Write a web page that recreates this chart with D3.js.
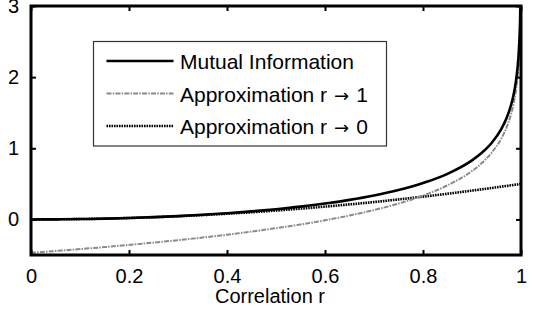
<!DOCTYPE html>
<html>
<head>
<meta charset="utf-8">
<script src="https://cdn.jsdelivr.net/npm/d3@7"></script>
<style>
  body { margin: 0; background: #fff; }
  text { font-family: "Liberation Sans", Arial, Helvetica, sans-serif; fill: #000; }
</style>
</head>
<body>
<div id="chart"></div>
<script>
// values
const corr = [0, 0.05, 0.1, 0.15, 0.2, 0.25, 0.3, 0.35, 0.4, 0.45, 0.5, 0.55, 0.6, 0.65, 0.7, 0.75,
  0.8, 0.85, 0.9, 0.92, 0.94, 0.96, 0.97, 0.98, 0.985, 0.99, 0.993, 0.995, 0.997, 0.998, 0.9988, 0.9991];
const mutualInfo = [0, 0.001, 0.005, 0.011, 0.020, 0.032, 0.047, 0.065, 0.087, 0.113, 0.144, 0.180, 0.223,
  0.275, 0.337, 0.413, 0.511, 0.641, 0.830, 0.937, 1.075, 1.273, 1.414, 1.615, 1.757, 1.959, 2.136, 2.304,
  2.559, 2.761, 3.02, 3.16];
const approxHigh = [-0.470, -0.444, -0.417, -0.389, -0.358, -0.326, -0.292, -0.255, -0.215, -0.171, -0.123,
  -0.071, -0.012, 0.055, 0.132, 0.223, 0.335, 0.479, 0.681, 0.793, 0.937, 1.139, 1.283, 1.486, 1.630, 1.833,
  2.011, 2.179, 2.435, 2.637, 2.893, 3.0];
const approxLow = [0, 0.001, 0.005, 0.011, 0.020, 0.031, 0.045, 0.061, 0.080, 0.101, 0.125, 0.151, 0.180,
  0.211, 0.245, 0.281, 0.320, 0.361, 0.405, 0.423, 0.442, 0.461, 0.470, 0.480, 0.485, 0.490, 0.492, 0.495,
  0.497, 0.498, 0.499, 0.499];
const xTicks = [0, 0.2, 0.4, 0.6, 0.8, 1];
const yTicks = [0, 1, 2, 3];
const legendNames = ["Mutual Information", "Approximation r", "Approximation r"];
const legendLimits = ["", "1", "0"];

const width = 536, height = 311;
const margin = {top: 6, right: 15, bottom: 56, left: 31};

const svg = d3.select("#chart").append("svg")
    .attr("width", width)
    .attr("height", height);

const x = d3.scaleLinear().domain([0, 1]).range([margin.left, width - margin.right]);
const y = d3.scaleLinear().domain([-0.5, 3]).range([height - margin.bottom, margin.top]);

svg.append("clipPath").attr("id", "plotclip")
  .append("rect")
    .attr("x", x(0)).attr("y", y(3))
    .attr("width", x(1) - x(0)).attr("height", y(-0.5) - y(3));

const series = [
  {values: mutualInfo, stroke: "#000", width: 2.6, dash: null},
  {values: approxHigh, stroke: "#8a8a8a", width: 2, dash: "5,1.2,1.5,1.2"},
  {values: approxLow, stroke: "#000", width: 2.6, dash: "1.6,0.9"}
];

const line = d3.line().curve(d3.curveMonotoneX);

const plot = svg.append("g").attr("clip-path", "url(#plotclip)");
// draw in reverse so the solid line ends up on top
series.slice().reverse().forEach(s => {
  plot.append("path")
    .datum(corr.map((r, i) => [x(r), y(s.values[i])]))
    .attr("d", line)
    .attr("fill", "none")
    .attr("stroke", s.stroke)
    .attr("stroke-width", s.width)
    .attr("stroke-dasharray", s.dash);
});

// axes: ticks inside the box on all four sides
svg.append("g")
    .attr("transform", `translate(0,${y(-0.5)})`)
    .call(d3.axisBottom(x).tickValues(xTicks).tickSize(-5).tickPadding(14).tickFormat(d3.format("")))
    .call(g => g.select(".domain").remove());
svg.append("g")
    .attr("transform", `translate(0,${y(3)})`)
    .call(d3.axisTop(x).tickValues(xTicks).tickSize(-5).tickFormat(""))
    .call(g => g.select(".domain").remove());
svg.append("g")
    .attr("transform", `translate(${x(0)},0)`)
    .call(d3.axisLeft(y).tickValues(yTicks).tickSize(-5).tickPadding(12).tickFormat(d3.format("d")))
    .call(g => g.select(".domain").remove());
svg.append("g")
    .attr("transform", `translate(${x(1)},0)`)
    .call(d3.axisRight(y).tickValues(yTicks).tickSize(-5).tickFormat(""))
    .call(g => g.select(".domain").remove());

svg.selectAll(".tick line").attr("stroke", "#000").attr("stroke-width", 2);
svg.selectAll(".tick text").style("font-size", "20px").attr("fill", "#000");

svg.append("rect")
    .attr("x", x(0)).attr("y", y(3))
    .attr("width", x(1) - x(0)).attr("height", y(-0.5) - y(3))
    .attr("fill", "none")
    .attr("stroke", "#000")
    .attr("stroke-width", 3);

svg.append("text")
    .attr("x", 270)
    .attr("y", 303)
    .attr("text-anchor", "middle")
    .style("font-size", "20px")
    .text("Correlation r");

// legend
const legend = svg.append("g").attr("transform", "translate(93.5,41.5)");
legend.append("rect")
    .attr("width", 293).attr("height", 104.5)
    .attr("fill", "#fff")
    .attr("stroke", "#333")
    .attr("stroke-width", 1.2);

series.forEach((s, i) => {
  const ly = 19.5 + i * 32.5;
  legend.append("line")
      .attr("x1", 13).attr("x2", 80)
      .attr("y1", ly).attr("y2", ly)
      .attr("stroke", s.stroke)
      .attr("stroke-width", s.width)
      .attr("stroke-dasharray", s.dash);
  const t = legend.append("text")
      .attr("x", 86.5)
      .attr("y", ly + 8)
      .style("font-size", "21px")
      .text(legendNames[i]);
  if (legendLimits[i]) {
    t.append("tspan")
        .style("font-family", "'DejaVu Sans'")
        .style("font-size", "18px")
        .attr("dx", 7)
        .text("\u2192");
    t.append("tspan")
        .attr("dx", 7)
        .text(legendLimits[i]);
  }
});
</script>
</body>
</html>
